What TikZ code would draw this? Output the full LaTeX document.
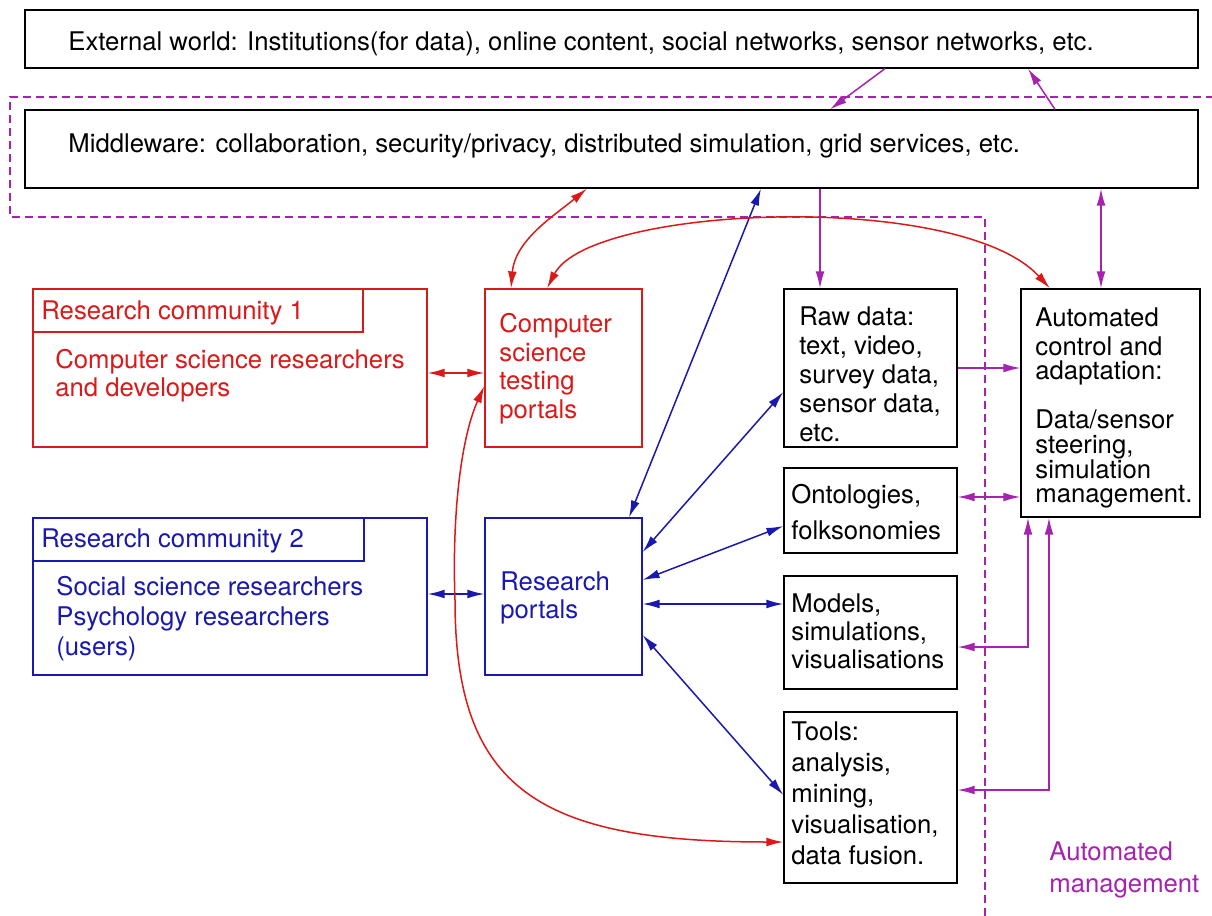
\documentclass[tikz,border=0pt]{standalone}
\usepackage{fontspec}
\setmainfont{TeX Gyre Heros}
\usetikzlibrary{arrows.meta,fit}
\definecolor{cred}{RGB}{220,25,25}
\definecolor{cblue}{RGB}{25,25,175}
\definecolor{cpurple}{RGB}{165,35,175}
\newcommand\fs[1]{\fontsize{12.85}{#1}\selectfont}
\begin{document}
\begin{tikzpicture}[x=0.5pt,y=-0.5pt,
  box/.style={draw, line width=0.6pt, inner sep=0pt},
  txt/.style={inner sep=0pt, align=left, anchor=north west},
  lbl/.style={inner sep=0pt, anchor=base west, font=\fs{15}},
  tip/.tip={Latex[length=8.5pt,width=4.4pt]},
  arr/.style={line width=0.75pt, -tip},
  darr/.style={line width=0.75pt, tip-tip},
  region/.style={draw=cpurple, line width=0.7pt, dash pattern=on 4pt off 2.5pt}
]
\fill[white] (0,0) rectangle (1212,916);
\useasboundingbox (0,0) rectangle (1212,916);

% dashed region outline
\draw[region] (985,916) -- (985,217) -- (10,217) -- (10,97) -- (1212,97);

% boxes
\node[box, fit={(25,10) (1198,68)}] (ext) {};
\node[box, fit={(25,110) (1198,188)}] (mid) {};
\node[box, draw=cred, fit={(33,289) (427,447)}] (rc1) {};
\node[box, draw=cred, fit={(33,289) (363,332)}] (rc1t) {};
\node[box, draw=cred, fit={(485,289) (642,447)}] (cst) {};
\node[box, draw=cblue, fit={(33,518) (427,675)}] (rc2) {};
\node[box, draw=cblue, fit={(33,518) (364,561)}] (rc2t) {};
\node[box, draw=cblue, fit={(485,518) (642,675)}] (rp) {};
\node[box, fit={(784,289) (957,447)}] (raw) {};
\node[box, fit={(1021,289) (1200,517)}] (ac) {};
\node[box, fit={(784,468) (957,553)}] (ont) {};
\node[box, fit={(784,576) (957,689)}] (mod) {};
\node[box, fit={(784,712) (957,883)}] (tools) {};

% texts
\node[lbl] (extT) at (68,50) {External world: Institutions(for data), online content, social networks, sensor networks, etc.};
\node[lbl] (midT) at (68,152) {Middleware: collaboration, security/privacy, distributed simulation, grid services, etc.};
\node[lbl, text=cred] (rc1tT) at (41,319) {Research community 1};
\node[txt, text=cred, font=\fs{13}] (rc1T) at (55,348.8) {\strut Computer science researchers\\ and developers};
\node[txt, text=cred, font=\fs{14.3}] (cstT) at (499,312) {\strut Computer\\ science\\ testing\\ portals};
\node[lbl, text=cblue] (rc2tT) at (41,547) {Research community 2};
\node[txt, text=cblue, font=\fs{15}] (rc2T) at (56,574) {\strut Social science researchers\\ Psychology researchers\\ (users)};
\node[txt, text=cblue, font=\fs{14}] (rpT) at (500,570.4) {\strut Research\\ portals};
\node[txt, font=\fs{14.5}] (rawT) at (799,304.7) {\strut Raw data:\\ text, video,\\ survey data,\\ sensor data,\\ etc.};
\node[txt, font=\fs{12.3}] (acT) at (1035,307.8) {\strut Automated\\ control and\\ adaptation:\\ \\ Data/sensor\\ steering,\\ simulation\\ management.};
\node[txt, font=\fs{18}] (ontT) at (791,477.8) {\strut Ontologies,\\ folksonomies};
\node[txt, font=\fs{14}] (modT) at (791,592.4) {\strut Models,\\ simulations,\\ visualisations};
\node[txt, font=\fs{15.5}] (toolsT) at (791,718.3) {\strut Tools:\\ analysis,\\ mining,\\ visualisation,\\ data fusion.};
\node[txt, text=cpurple, font=\fs{16}] (amT) at (1049,837.6) {\strut Automated\\ management};

% purple connectors
\begin{scope}[cpurple]
\draw[arr] (ext.south -| 885,0) -- (mid.north -| 830,0);
\draw[arr] (mid.north -| 1055,0) -- (ext.south -| 1028,0);
\draw[arr] (mid.south -| 820,0) -- (raw.north -| 820,0);
\draw[darr] (mid.south -| 1101,0) -- (ac.north -| 1101,0);
\draw[arr] (raw.east |- 0,368) -- (ac.west |- 0,368);
\draw[darr] (ont.east |- 0,497) -- (ac.west |- 0,497);
\draw[darr] (ac.south -| 1028,0) |- (mod.east |- 0,647);
\draw[darr] (ac.south -| 1049,0) |- (tools.east |- 0,790);
\end{scope}

% blue connectors
\begin{scope}[cblue]
\draw[darr] (rp.north -| 629,0) -- (mid.south -| 761,0);
\draw[darr] (rp.east |- 0,552) -- (raw.west |- 0,392);
\draw[darr] (rp.east |- 0,580) -- (ont.west |- 0,526);
\draw[darr] (rp.east |- 0,604) -- (mod.west |- 0,604);
\draw[darr] (rp.east |- 0,635) -- (tools.west |- 0,795);
\draw[darr] (rc2.east |- 0,594) -- (rp.west |- 0,594);
\end{scope}

% red connectors
\begin{scope}[cred]
\draw[darr] (rc1.east |- 0,373) -- (cst.west |- 0,373);
\draw[darr] (cst.north -| 511,0) .. controls (515,240) and (555,215) .. (mid.south -| 587,0);
\draw[darr] (cst.north -| 547,0) .. controls (590,205) and (960,190) .. (ac.north -| 1050,0);
\draw[darr] (cst.west |- 0,386) .. controls (460,440) and (452,520) .. (455,600)
  .. controls (455,790) and (540,842) .. (tools.west |- 0,842);
\end{scope}
\end{tikzpicture}
\end{document}
